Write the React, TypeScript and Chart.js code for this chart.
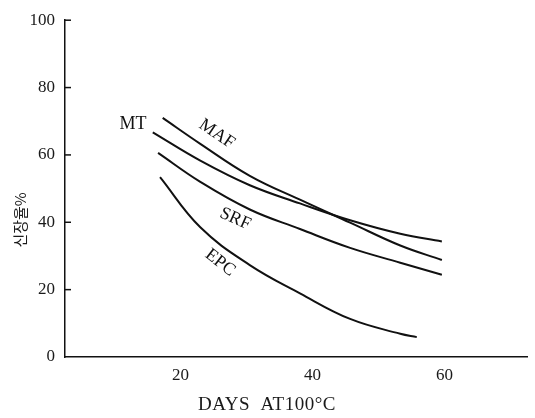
import React, { useEffect, useRef } from "react";
import { Chart, registerables } from "chart.js";

Chart.register(...registerables);

// Axis ticks
const xTicks = [20, 40, 60];
const yTicks = [0, 20, 40, 60, 80, 100];

// Series (days at 100°C → 신장율 %)
const mtX = [15.8, 23.0, 30.5, 38.1, 45.7, 53.3, 59.6];
const mtY = [66.7, 58.3, 51.0, 45.6, 40.6, 36.6, 34.3];
const mafX = [17.3, 23.0, 30.5, 38.1, 45.7, 53.3, 59.6];
const mafY = [71.0, 63.3, 53.8, 46.7, 39.9, 33.1, 28.8];
const srfX = [16.6, 23.0, 30.5, 38.1, 45.7, 53.3, 59.6];
const srfY = [60.6, 52.0, 43.8, 38.0, 32.4, 28.0, 24.4];
const epcX = [16.9, 23.0, 30.5, 38.1, 45.7, 53.3, 55.8];
const epcY = [53.4, 38.5, 27.3, 18.9, 11.3, 6.9, 5.9];

const seriesNames = ["MT", "MAF", "SRF", "EPC"];

const xTitle = "DAYS  AT100°C";
const yTitle = "신장율%";

// in-plot label placements (data units) and rotation (degrees)
const labelPlacement = [
  { x: 12.8, y: 69.2, rot: 0 },
  { x: 25.5, y: 66.2, rot: 34 },
  { x: 28.3, y: 41.0, rot: 24 },
  { x: 26.0, y: 28.0, rot: 38 },
];

const SERIF = '"Liberation Serif", "DejaVu Serif", serif';
const INK = "#111";

const decor = {
  id: "decor",
  afterDraw(chart: any) {
    const { ctx, chartArea, scales } = chart;
    const xs = scales.x;
    const ys = scales.y;
    ctx.save();
    // inward y ticks
    ctx.strokeStyle = INK;
    ctx.lineWidth = 1.5;
    yTicks.forEach((v) => {
      if (v === 0) return;
      const py = ys.getPixelForValue(v);
      ctx.beginPath();
      ctx.moveTo(chartArea.left, py);
      ctx.lineTo(chartArea.left + 6, py);
      ctx.stroke();
    });
    // series labels
    ctx.fillStyle = INK;
    ctx.font = `18px ${SERIF}`;
    ctx.textAlign = "center";
    ctx.textBaseline = "middle";
    seriesNames.forEach((name, i) => {
      const p = labelPlacement[i];
      ctx.save();
      ctx.translate(xs.getPixelForValue(p.x), ys.getPixelForValue(p.y));
      ctx.rotate((p.rot * Math.PI) / 180);
      ctx.fillText(name, 0, 0);
      ctx.restore();
    });
    // x title
    ctx.font = `19px ${SERIF}`;
    ctx.fillStyle = "#1a1a1a";
    (ctx as any).letterSpacing = "0.5px";
    ctx.fillText(xTitle, 267, 405);
    (ctx as any).letterSpacing = "0px";
    // y title
    ctx.save();
    ctx.translate(20, 220);
    ctx.rotate(-Math.PI / 2);
    ctx.font = `15px "Noto Sans CJK KR", sans-serif`;
    ctx.fillText(yTitle, 0, 0);
    ctx.restore();
    ctx.restore();
  },
};

export default function App() {
  const ref = useRef<HTMLCanvasElement>(null);
  useEffect(() => {
    const canvas = ref.current;
    if (!canvas) return;
    const mk = (xs: number[], ys: number[]) => xs.map((x, i) => ({ x, y: ys[i] }));
    const sets = [mk(mtX, mtY), mk(mafX, mafY), mk(srfX, srfY), mk(epcX, epcY)];
    const chart = new Chart(canvas, {
      type: "line",
      data: {
        datasets: sets.map((d, i) => ({
          label: seriesNames[i],
          data: d,
          borderColor: INK,
          borderWidth: 2,
          pointRadius: 0,
          fill: false,
          tension: 0.4,
        })),
      },
      options: {
        responsive: false,
        animation: false,
        devicePixelRatio: 1,
        layout: { padding: { top: 14, right: 8, left: 0, bottom: 0 } },
        plugins: { legend: { display: false }, tooltip: { enabled: false } },
        scales: {
          x: {
            type: "linear",
            min: 2.5,
            max: 72.5,
            afterBuildTicks: (s: any) => {
              s.ticks = xTicks.map((v) => ({ value: v }));
            },
            afterFit: (s: any) => {
              s.height = 61;
            },
            grid: { display: true, drawOnChartArea: false, drawTicks: false, color: "rgba(0,0,0,0)" },
            border: { display: true, color: INK, width: 1.5 },
            ticks: { padding: 8, color: "#1a1a1a", font: { family: SERIF, size: 17 } },
          },
          y: {
            type: "linear",
            min: 0,
            max: 100,
            afterBuildTicks: (s: any) => {
              s.ticks = yTicks.map((v) => ({ value: v }));
            },
            afterFit: (s: any) => {
              s.width = 65;
            },
            grid: { display: true, drawOnChartArea: false, drawTicks: false, color: "rgba(0,0,0,0)" },
            border: { display: true, color: INK, width: 1.5 },
            ticks: { padding: 10, color: "#1a1a1a", font: { family: SERIF, size: 17 } },
          },
        },
      },
      plugins: [decor],
    });
    return () => chart.destroy();
  }, []);
  return (
    <div style={{ position: "absolute", left: 0, top: 0, width: 535, height: 418, background: "#fff" }}>
      <canvas ref={ref} width={535} height={418} style={{ display: "block" }} />
    </div>
  );
}
